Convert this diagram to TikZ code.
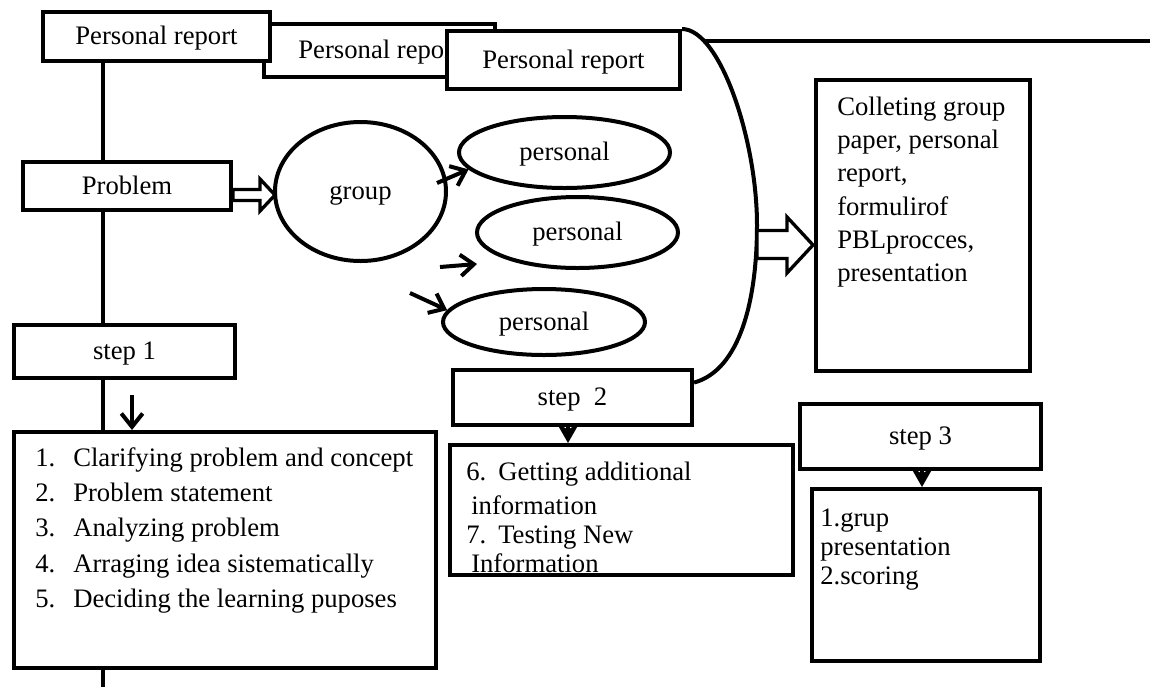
\documentclass[tikz,border=0pt]{standalone}
\usepackage{fontspec}
\setmainfont{Liberation Serif}
\usepackage{tikz}
\usetikzlibrary{arrows.meta}
\usetikzlibrary{shapes.geometric}
\tikzset{
    tnode/.style = {align=center, inner sep=0pt, text centered, font=\fontsize{20}{24}\selectfont, text height=16pt, text depth=4pt},
    dims/.style 2 args = {minimum width=#1*0.75pt, minimum height=#2*0.75pt},
    box_node/.style = {tnode, rectangle, draw=black, fill=white, line width=3pt},
    oval_node/.style = {tnode, ellipse, draw=black, fill=white, line width=3pt},
    list_text/.style = {inner sep=0pt, anchor=base west},
    trunk_line/.style = {draw=black, line width=3pt},
    barb_arrow/.style = {-{Straight Barb[length=10pt, width=16pt]}, line width=3pt},
    head_arrow/.style = {-{Stealth[length=15pt, width=17pt, inset=5pt]}, line width=3pt},
    hollow_arrow/.style = {draw=black, fill=white, line width=2.5pt, line join=miter}
}

\begin{document}
\begin{tikzpicture}
            [x=0.75pt, y=-0.75pt]

            \useasboundingbox (0,0) rectangle (1157,687);

            \coordinate (trunk) at (103,687);
            \coordinate (top_end) at (1150,0);
            \coordinate (s1_from) at (132,395);
            \coordinate (s2_x) at (568,0);
            \coordinate (s3_x) at (922,0);
            \coordinate (brace_mid) at (757,244);
            \coordinate (arr_a) at (437,183);
            \coordinate (arr_b0) at (440,267);
            \coordinate (arr_b1) at (477,264);
            \coordinate (arr_c) at (410,293);

            % reports on top
            \node [box_node, dims={231}{53}] (rep_b) at (379.5,50.5) {Personal report};
            \node [box_node, dims={227}{49}] (rep_a) at (156.5,36.5) {Personal report};
            \node [box_node, dims={233}{58}] (rep_c) at (563.5,60) {Personal report};

            \node [box_node, dims={208}{48}] (problem) at (127,186) {Problem};
            \node [oval_node, dims={171}{139}] (group) at (360.5,191.5) {group};
            \node [oval_node, dims={211}{71}] (pers_a) at (564.5,152.5) {personal};
            \node [oval_node, dims={201}{71}] (pers_b) at (577.5,232.5) {personal};
            \node [oval_node, dims={202}{66}] (pers_c) at (544,322) {personal};

            % steps
            \node [box_node, dims={221}{53}] (step_a) at (124.5,351.5) {step 1};
            \node [box_node, dims={422}{236}] (list_a) at (225,550) {};
            \node [box_node, dims={239}{55}] (step_b) at (572.5,397.5) {step\ \ 2};
            \node [box_node, dims={343}{130}] (list_b) at (621.5,510) {};
            \node [box_node, dims={241}{65}] (step_c) at (920.5,436.5) {step 3};
            \node [box_node, dims={228}{172}] (list_c) at (926,575) {};
            \node [box_node, dims={214}{291}] (collect) at (923,225.5) {};

            \node [list_text, font=\fontsize{20}{26.5}\selectfont] (list_a_text) at (35,466) {%
                \begin{tabular}[t]{@{}l@{}}
                \makebox[28.5pt][l]{1.}Clarifying problem and concept\\
                \makebox[28.5pt][l]{2.}Problem statement\\
                \makebox[28.5pt][l]{3.}Analyzing problem\\
                \makebox[28.5pt][l]{4.}Arraging idea sistematically\\
                \makebox[28.5pt][l]{5.}Deciding the learning puposes
                \end{tabular}};
            \node [list_text, font=\fontsize{20}{21.75}\selectfont] (list_b_text) at (466,480) {%
                \begin{tabular}[t]{@{}l@{}}
                \makebox[24pt][l]{6.}Getting additional\\[3.75pt]
                \hspace{3.75pt}information\\
                \makebox[24pt][l]{7.}Testing New\\
                \hspace{3.75pt}Information
                \end{tabular}};
            \node [list_text, font=\fontsize{20}{22}\selectfont] (list_c_text) at (820,526) {%
                \begin{tabular}[t]{@{}l@{}}
                1.grup\\
                presentation\\
                2.scoring
                \end{tabular}};
            \node [list_text, font=\fontsize{20}{25}\selectfont] (collect_text) at (837,115) {%
                \begin{tabular}[t]{@{}l@{}}
                Colleting group\\
                paper, personal\\
                report,\\
                formulirof\\
                PBLprocces,\\
                presentation
                \end{tabular}};

            % left trunk
            \draw [trunk_line] (rep_a.south -| trunk) -- (problem.north -| trunk);
            \draw [trunk_line] (problem.south -| trunk) -- (step_a.north -| trunk);
            \draw [trunk_line] (step_a.south -| trunk) -- (list_a.north -| trunk);
            \draw [trunk_line] (list_a.south -| trunk) -- (trunk);

            % brace from the reports down to step 2
            \draw [trunk_line] (rep_c.north east) .. controls (720,29) and (757,140) .. coordinate[pos=0.2] (top_start) (757,225)
                .. controls (757,300) and (740,370) .. (step_b.7);
            \draw [trunk_line] (top_start) -- (top_start -| top_end);

            % hollow arrows
            \draw [hollow_arrow] (problem.east) ++(0,3.5) -- ++(27,0) -- ++(0,-10.5) -- ++(15,16)
                -- ++(-15,16) -- ++(0,-10.5) -- ++(-27,0) -- cycle;
            \draw [hollow_arrow] (brace_mid) ++(0,-13.5) -- ++(30,0) -- ++(0,-13.5) -- ++(26,28)
                -- ++(-26,28) -- ++(0,-14.5) -- ++(-30,0) -- cycle;

            % small arrows
            \draw [barb_arrow] (arr_a) -- (pers_a.190);
            \draw [barb_arrow] (arr_b0) -- (arr_b1);
            \draw [barb_arrow] (arr_c) -- (pers_c.173);
            \draw [barb_arrow] (s1_from) -- (list_a.north -| s1_from);
            \draw [head_arrow] (step_b.south -| s2_x) -- (list_b.north -| s2_x);
            \draw [head_arrow] (step_c.south -| s3_x) -- (list_c.north -| s3_x);
        \end{tikzpicture}
\end{document}
